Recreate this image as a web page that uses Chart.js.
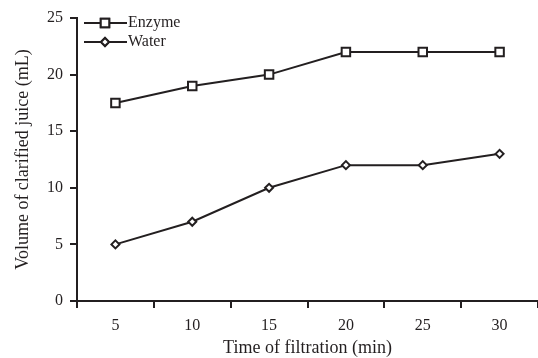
<!DOCTYPE html>
<html>
<head>
<meta charset="utf-8">
<script src="https://cdn.jsdelivr.net/npm/chart.js@4"></script>
<style>
  html, body { margin: 0; padding: 0; background: #fff; }
  #wrap { width: 538px; height: 358px; position: relative; }
</style>
</head>
<body>
<div id="wrap"><canvas id="chart"></canvas></div>
<script>
// data
const times = ['5', '10', '15', '20', '25', '30'];
const enzyme = [17.5, 19, 20, 22, 22, 22];
const water = [5, 7, 10, 12, 12, 13];
const yTicks = [0, 5, 10, 15, 20, 25];

const ink = '#231f20';
const serif = '"Liberation Serif", "Times New Roman", serif';

// legend drawn inside the plot, top-left, like the original
const insideLegend = {
    id: 'insideLegend',
    afterDraw(chart) {
        const ctx = chart.ctx;
        const x0 = chart.chartArea.left + 7;
        const rows = [
            { label: 'Enzyme', style: 'rect', r: 6, y: 23 },
            { label: 'Water', style: 'rectRot', r: 4, y: 42 }
        ];
        ctx.save();
        rows.forEach(r => {
            ctx.strokeStyle = ink;
            ctx.lineWidth = 2;
            ctx.beginPath();
            ctx.moveTo(x0, r.y);
            ctx.lineTo(x0 + 43, r.y);
            ctx.stroke();
            ctx.fillStyle = '#fff';
            Chart.helpers.drawPoint(ctx, { pointStyle: r.style, radius: r.r, borderWidth: 2 }, x0 + 21, r.y);
            ctx.fill();
            ctx.stroke();
            ctx.fillStyle = ink;
            ctx.font = '16px ' + serif;
            ctx.textBaseline = 'middle';
            ctx.fillText(r.label, x0 + 44, r.y);
        });
        ctx.restore();
    }
};

new Chart(document.getElementById('chart'), {
    type: 'line',
    data: {
        labels: times,
        datasets: [
            {
                label: 'Enzyme',
                data: enzyme,
                borderColor: ink,
                borderWidth: 2,
                backgroundColor: '#fff',
                pointStyle: 'rect',
                pointRadius: 6,
                pointBorderWidth: 2,
                tension: 0
            },
            {
                label: 'Water',
                data: water,
                borderColor: ink,
                borderWidth: 2,
                backgroundColor: '#fff',
                pointStyle: 'rectRot',
                pointRadius: 4,
                pointBorderWidth: 2,
                tension: 0
            }
        ]
    },
    options: {
        responsive: true,
        maintainAspectRatio: false,
        animation: false,
        layout: { autoPadding: false, padding: { top: 18, right: 0, left: 0, bottom: 0 } },
        plugins: {
            legend: { display: false },
            tooltip: { enabled: false }
        },
        scales: {
            x: {
                offset: true,
                afterFit(axis) { axis.height = 57; axis.paddingLeft = 0; axis.paddingRight = 0; },
                grid: { offset: true, drawOnChartArea: false, drawTicks: true, tickLength: 7, color: ink, lineWidth: 2 },
                border: { display: true, color: ink, width: 2 },
                ticks: { color: ink, font: { family: serif, size: 16 }, padding: 8 },
                title: { display: true, text: 'Time of filtration (min)', color: ink, font: { family: serif, size: 18 }, padding: { top: 0, bottom: -1 } }
            },
            y: {
                min: 0,
                max: 25,
                afterBuildTicks(axis) { axis.ticks = yTicks.map(v => ({ value: v })); },
                afterFit(axis) { axis.width = 77; axis.paddingTop = 0; axis.paddingBottom = 0; },
                grid: { drawOnChartArea: false, drawTicks: true, tickLength: 7, color: ink, lineWidth: 2 },
                border: { display: true, color: ink, width: 2 },
                ticks: { color: ink, font: { family: serif, size: 16 }, padding: 7 },
                title: { display: true, text: 'Volume of clarified juice (mL)', color: ink, font: { family: serif, size: 18 }, padding: { top: 12, bottom: 0 } }
            }
        }
    },
    plugins: [insideLegend]
});
</script>
</body>
</html>
